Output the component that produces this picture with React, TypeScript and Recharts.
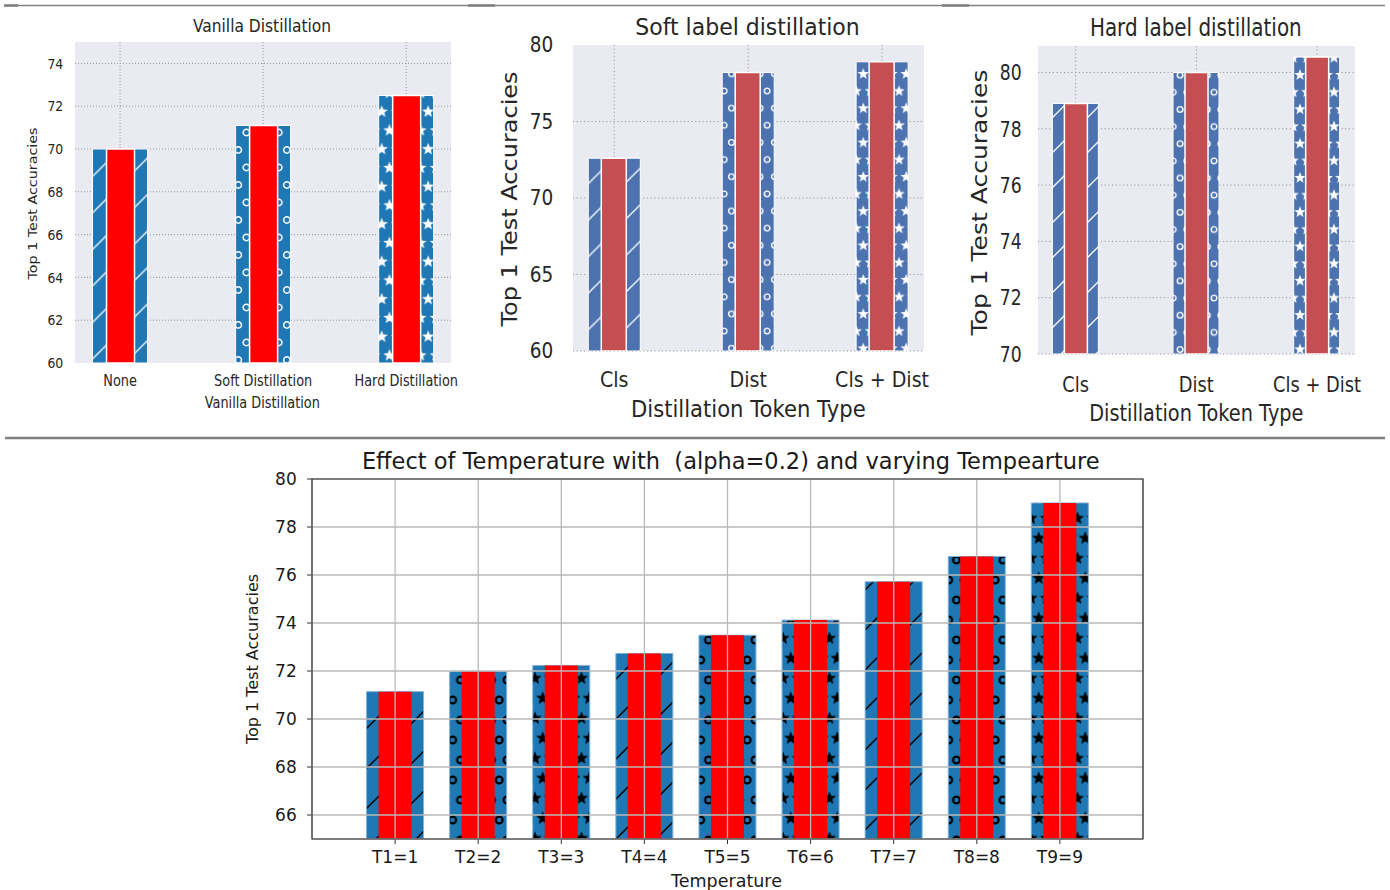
import React from 'react';
import { BarChart, Bar, XAxis, YAxis, CartesianGrid, Cell, ReferenceArea } from 'recharts';

const FONT = "'DejaVu Sans', 'Liberation Sans', sans-serif";
const INK = '#262626';
const INK4 = '#1a1a1a';

// Vanilla Distillation
const vanillaCats = ['None', 'Soft Distillation', 'Hard Distillation'];
const vanillaAcc = [70.0, 71.1, 72.5];
const vanillaTicks = [60, 62, 64, 66, 68, 70, 72, 74];

// Soft / Hard label distillation
const tokenCats = ['Cls', 'Dist', 'Cls + Dist'];
const softAcc = [72.6, 78.2, 78.9];
const softTicks = [60, 65, 70, 75, 80];
const hardAcc = [78.9, 80.0, 80.55];
const hardTicks = [70, 72, 74, 76, 78, 80];

// Temperature sweep
const tempCats = ['T1=1', 'T2=2', 'T3=3', 'T4=4', 'T5=5', 'T6=6', 'T7=7', 'T8=8', 'T9=9'];
const tempAcc = [71.14, 71.98, 72.23, 72.73, 73.49, 74.12, 75.72, 76.77, 79.0];
const tempTicks = [66, 68, 70, 72, 74, 76, 78, 80];

const hatchOrder = ['slash', 'circ', 'star'];

const vanillaData = vanillaCats.map((name, i) => ({ x: i, name, acc: vanillaAcc[i] }));
const softData = tokenCats.map((name, i) => ({ x: i, name, acc: softAcc[i] }));
const hardData = tokenCats.map((name, i) => ({ x: i, name, acc: hardAcc[i] }));
const tempData = tempCats.map((name, i) => ({ x: i + 1, name, acc: tempAcc[i] }));

function starPath(cx: number, cy: number, R: number, r: number) {
  let d = '';
  for (let k = 0; k < 10; k++) {
    const a = -Math.PI / 2 + (k * Math.PI) / 5;
    const rad = k % 2 === 0 ? R : r;
    d += (k === 0 ? 'M' : 'L') + (cx + rad * Math.cos(a)).toFixed(2) + ',' + (cy + rad * Math.sin(a)).toFixed(2);
  }
  return d + 'Z';
}

type HatchProps = {
  id: string;
  base: string;
  ink: string;
  slash: { p: number; off: number; w: number };
  circ: { w: number; h: number; x: number; y: number; r: number; sw: number };
  star: { w: number; h: number; x: number; y: number; R: number };
};

const Hatches = ({ id, base, ink, slash, circ, star }: HatchProps) => {
  const pts = (w: number, h: number) => [[0, 0], [w, 0], [0, h], [w, h], [w / 2, h / 2]];
  const p = slash.p;
  return (
    <defs>
      <pattern id={`${id}-slash`} patternUnits="userSpaceOnUse" width={p} height={p} x={slash.off} y={0}>
        <rect width={p} height={p} fill={base} />
        <path
          d={`M-2,2 L2,-2 M0,${p} L${p},0 M${p - 2},${p + 2} L${p + 2},${p - 2}`}
          stroke={ink}
          strokeWidth={slash.w}
        />
      </pattern>
      <pattern id={`${id}-circ`} patternUnits="userSpaceOnUse" width={circ.w} height={circ.h} x={circ.x} y={circ.y}>
        <rect width={circ.w} height={circ.h} fill={base} />
        {pts(circ.w, circ.h).map(([cx, cy], k) => (
          <circle key={k} cx={cx} cy={cy} r={circ.r} fill="none" stroke={ink} strokeWidth={circ.sw} />
        ))}
      </pattern>
      <pattern id={`${id}-star`} patternUnits="userSpaceOnUse" width={star.w} height={star.h} x={star.x} y={star.y}>
        <rect width={star.w} height={star.h} fill={base} />
        {pts(star.w, star.h).map(([cx, cy], k) => (
          <path key={k} d={starPath(cx, cy, star.R, star.R * 0.42)} fill={ink} />
        ))}
      </pattern>
    </defs>
  );
};

const xTick = (fmt: (v: number) => string, baseY: number, fs: number, sx: number, color: string) => (p: any) => (
  <g transform={`translate(${p.x},${baseY}) scale(${sx},1)`}>
    <text x={0} y={0} textAnchor="middle" fontSize={fs} fill={color} fontFamily={FONT}>
      {fmt(p.payload.value)}
    </text>
  </g>
);

const yTick = (rightX: number, fs: number, sx: number, color: string) => (p: any) => (
  <g transform={`translate(${rightX},${p.y}) scale(${sx},1)`}>
    <text x={0} y={0} dy="0.36em" textAnchor="end" fontSize={fs} fill={color} fontFamily={FONT}>
      {p.payload.value}
    </text>
  </g>
);

// grid lines only at chosen values (keeps the plot frame free of dotted edges)
const hLines = (vals: number[], dom: [number, number]) => (props: any) => {
  const o = props?.offset;
  if (!o) return [];
  return vals.map(v => o.top + ((dom[1] - v) / (dom[1] - dom[0])) * o.height);
};
const vLines = (vals: number[], dom: [number, number]) => (props: any) => {
  const o = props?.offset;
  if (!o) return [];
  return vals.map(v => o.left + ((v - dom[0]) / (dom[1] - dom[0])) * o.width);
};

function VanillaChart() {
  const dom: [number, number] = [-0.315, 2.313];
  const ydom: [number, number] = [60, 75];
  return (
    <BarChart width={470} height={420} data={vanillaData} margin={{ top: 42, right: 19, bottom: 17, left: 15 }}>
      <Hatches
        id="c1"
        base="#1f77b4"
        ink="#ffffff"
        slash={{ p: 36.5, off: 13.5, w: 1.3 }}
        circ={{ w: 16.2, h: 35, x: 11.5, y: 10, r: 3.2, sw: 1.5 }}
        star={{ w: 15.5, h: 37.5, x: 9.7, y: 36.7, R: 6.5 }}
      />
      <CartesianGrid xAxisId="a" fill="#eaeaf2" fillOpacity={1} stroke="none" horizontal={false} vertical={false} />
      <CartesianGrid xAxisId="a" stroke="#999999" strokeDasharray="1 2"
        horizontalCoordinatesGenerator={hLines(vanillaTicks.slice(1), ydom)}
        verticalCoordinatesGenerator={vLines([0, 1, 2], dom)} />
      <XAxis xAxisId="a" dataKey="x" type="number" domain={dom} ticks={[0, 1, 2]} interval={0} allowDataOverflow
        axisLine={false} tickLine={false} height={40} tick={xTick(v => vanillaCats[v], 386, 15, 0.86, INK)} />
      <XAxis xAxisId="b" dataKey="x" type="number" domain={dom} allowDataOverflow hide />
      <YAxis domain={ydom} ticks={vanillaTicks} interval={0} allowDataOverflow axisLine={false} tickLine={false}
        width={60} tick={yTick(63.3, 14.5, 0.86, INK)} />
      <Bar xAxisId="a" dataKey="acc" barSize={55} stroke="#ffffff" strokeWidth={1} isAnimationActive={false}>
        {vanillaData.map((d, i) => (
          <Cell key={d.name} fill={`url(#c1-${hatchOrder[i]})`} />
        ))}
      </Bar>
      <Bar xAxisId="b" dataKey="acc" barSize={28} fill="#ff0000" stroke="#ffffff" strokeWidth={1.5} isAnimationActive={false} />
    </BarChart>
  );
}

function SoftChart() {
  const dom: [number, number] = [-0.308, 2.313];
  const ydom: [number, number] = [60, 80];
  return (
    <BarChart width={480} height={430} data={softData} margin={{ top: 45, right: 36, bottom: 39, left: 33 }}>
      <Hatches
        id="c2"
        base="#4c72b0"
        ink="#ffffff"
        slash={{ p: 36.5, off: 0, w: 1.3 }}
        circ={{ w: 14.3, h: 34.3, x: 1.2, y: 22.4, r: 2.8, sw: 1.4 }}
        star={{ w: 14.3, h: 34.3, x: 11.5, y: 5.4, R: 6 }}
      />
      <CartesianGrid xAxisId="a" fill="#eaeaf2" fillOpacity={1} stroke="none" horizontal={false} vertical={false} />
      <CartesianGrid xAxisId="a" stroke="#999999" strokeDasharray="1.2 2.5"
        horizontalCoordinatesGenerator={hLines(softTicks.slice(0, -1), ydom)}
        verticalCoordinatesGenerator={vLines([0, 1, 2], dom)} />
      <XAxis xAxisId="a" dataKey="x" type="number" domain={dom} ticks={[0, 1, 2]} interval={0} allowDataOverflow
        axisLine={false} tickLine={false} height={40} tick={xTick(v => tokenCats[v], 387, 20.5, 0.93, INK)} />
      <XAxis xAxisId="b" dataKey="x" type="number" domain={dom} allowDataOverflow hide />
      <YAxis domain={ydom} ticks={softTicks} interval={0} allowDataOverflow axisLine={false} tickLine={false}
        width={60} tick={yTick(73.3, 20.5, 0.9, INK)} />
      <Bar xAxisId="a" dataKey="acc" barSize={52} stroke="#ffffff" strokeWidth={1} isAnimationActive={false}>
        {softData.map((d, i) => (
          <Cell key={d.name} fill={`url(#c2-${hatchOrder[i]})`} />
        ))}
      </Bar>
      <Bar xAxisId="b" dataKey="acc" barSize={25} fill="#c44e52" stroke="#ffffff" strokeWidth={1.5} isAnimationActive={false} />
    </BarChart>
  );
}

function HardChart() {
  const dom: [number, number] = [-0.3125, 2.315];
  const ydom: [number, number] = [70, 80.94];
  return (
    <BarChart width={430} height={430} data={hardData} margin={{ top: 46, right: 35, bottom: 36, left: 28 }}>
      <Hatches
        id="c3"
        base="#4c72b0"
        ink="#ffffff"
        slash={{ p: 35, off: 0, w: 1.3 }}
        circ={{ w: 13.6, h: 34.3, x: 9.3, y: 23.7, r: 2.8, sw: 1.4 }}
        star={{ w: 13.6, h: 34.3, x: 0, y: 6.4, R: 6 }}
      />
      <CartesianGrid xAxisId="a" fill="#eaeaf2" fillOpacity={1} stroke="none" horizontal={false} vertical={false} />
      <CartesianGrid xAxisId="a" stroke="#999999" strokeDasharray="1.2 2.5"
        horizontalCoordinatesGenerator={hLines(hardTicks, ydom)}
        verticalCoordinatesGenerator={vLines([0, 1, 2], dom)} />
      <XAxis xAxisId="a" dataKey="x" type="number" domain={dom} ticks={[0, 1, 2]} interval={0} allowDataOverflow
        axisLine={false} tickLine={false} height={40} tick={xTick(v => tokenCats[v], 391.7, 21.5, 0.83, INK)} />
      <XAxis xAxisId="b" dataKey="x" type="number" domain={dom} allowDataOverflow hide />
      <YAxis domain={ydom} ticks={hardTicks} interval={0} allowDataOverflow axisLine={false} tickLine={false}
        width={50} tick={yTick(61.7, 21.5, 0.8, INK)} />
      <Bar xAxisId="a" dataKey="acc" barSize={46} stroke="#ffffff" strokeWidth={1} isAnimationActive={false}>
        {hardData.map((d, i) => (
          <Cell key={d.name} fill={`url(#c3-${hatchOrder[i]})`} />
        ))}
      </Bar>
      <Bar xAxisId="b" dataKey="acc" barSize={23} fill="#c44e52" stroke="#ffffff" strokeWidth={1.5} isAnimationActive={false} />
    </BarChart>
  );
}

function TempChart() {
  const dom: [number, number] = [0, 10];
  return (
    <BarChart width={940} height={450} data={tempData} margin={{ top: 39, right: 27, bottom: 21, left: 32 }}>
      <Hatches
        id="c4"
        base="#1f77b4"
        ink="#000000"
        slash={{ p: 40, off: 25, w: 1.5 }}
        circ={{ w: 15.5, h: 40, x: 5.7, y: 20, r: 3.4, sw: 2.2 }}
        star={{ w: 15.5, h: 40, x: 10.5, y: 38.3, R: 7 }}
      />
      <XAxis xAxisId="a" dataKey="x" type="number" domain={dom} ticks={tempData.map(d => d.x)} interval={0} allowDataOverflow
        axisLine={false} tickLine={{ stroke: '#333' }} tickSize={5} height={30}
        tick={xTick(v => tempCats[v - 1], 423.3, 17, 1, INK4)} />
      <XAxis xAxisId="b" dataKey="x" type="number" domain={dom} allowDataOverflow hide />
      <YAxis domain={[65, 80]} ticks={tempTicks} interval={0} allowDataOverflow axisLine={false}
        tickLine={{ stroke: '#333' }} tickSize={5} width={50} tick={yTick(66.7, 17, 1, INK4)} />
      <Bar xAxisId="a" dataKey="acc" barSize={57} stroke="#7fb2dc" strokeWidth={1} isAnimationActive={false}>
        {tempData.map((d, i) => (
          <Cell key={d.name} fill={`url(#c4-${hatchOrder[i % 3]})`} />
        ))}
      </Bar>
      <Bar xAxisId="b" dataKey="acc" barSize={33} fill="#ff0000" isAnimationActive={false} />
      <CartesianGrid xAxisId="a" stroke="#b8b8b8" strokeWidth={1.3} zIndex={1000} />
      <ReferenceArea xAxisId="a" x1={0} x2={10} y1={65} y2={80} fill="none" stroke="#333" strokeWidth={1.2}
        ifOverflow="visible" zIndex={1001} />
    </BarChart>
  );
}

function Overlay() {
  const title = (x: number, y: number, fs: number, sx: number, s: string, color = INK) => (
    <text key={s + x} transform={`translate(${x},${y}) scale(${sx},1)`} textAnchor="middle" fontSize={fs} fill={color}
      fontFamily={FONT} style={{ whiteSpace: 'pre' }}>
      {s}
    </text>
  );
  const ylab = (x: number, y: number, fs: number, sq: number, s: string, color = INK) => (
    <text key={s + x} transform={`translate(${x},${y}) rotate(-90) scale(1,${sq})`} textAnchor="middle" fontSize={fs} fill={color} fontFamily={FONT}>
      {s}
    </text>
  );
  return (
    <svg width={1390} height={890} style={{ position: 'absolute', left: 0, top: 0, pointerEvents: 'none' }}>
      <line x1={5} y1={5.5} x2={1385} y2={5.5} stroke="#808080" strokeWidth={1.5} />
      <line x1={4} y1={5.5} x2={18} y2={5.5} stroke="#808080" strokeWidth={2.5} />
      <line x1={468} y1={5.5} x2={495} y2={5.5} stroke="#808080" strokeWidth={2.5} />
      <line x1={942} y1={5.5} x2={969} y2={5.5} stroke="#808080" strokeWidth={2.5} />
      <line x1={5} y1={438} x2={1385} y2={438} stroke="#808080" strokeWidth={2.5} />

      {title(262, 31.5, 18, 0.86, 'Vanilla Distillation')}
      {title(262.3, 408, 15, 0.86, 'Vanilla Distillation')}
      {ylab(37, 203.5, 14.3, 0.86, 'Top 1 Test Accuracies')}

      {title(747.5, 35, 23, 0.956, 'Soft label distillation')}
      {title(748.3, 416.7, 23, 0.92, 'Distillation Token Type')}
      {ylab(516.7, 199, 24, 0.9, 'Top 1 Test Accuracies')}

      {title(1195.8, 36, 24, 0.83, 'Hard label distillation')}
      {title(1196.3, 420.7, 23, 0.84, 'Distillation Token Type')}
      {ylab(987, 202.5, 25, 0.83, 'Top 1 Test Accuracies')}

      {title(730.8, 469.3, 22.5, 1, 'Effect of Temperature with  (alpha=0.2) and varying Tempearture', INK4)}
      {title(726.5, 887, 17.5, 1, 'Temperature', INK4)}
      {ylab(258, 659, 16, 1, 'Top 1 Test Accuracies', INK4)}
    </svg>
  );
}

export default function App() {
  return (
    <div style={{ position: 'absolute', left: 0, top: 0, width: 1390, height: 890, background: '#ffffff', fontFamily: FONT }}>
      <div style={{ position: 'absolute', left: 0, top: 0 }}>
        <VanillaChart />
      </div>
      <div style={{ position: 'absolute', left: 480, top: 0 }}>
        <SoftChart />
      </div>
      <div style={{ position: 'absolute', left: 960, top: 0 }}>
        <HardChart />
      </div>
      <div style={{ position: 'absolute', left: 230, top: 440 }}>
        <TempChart />
      </div>
      <Overlay />
    </div>
  );
}
